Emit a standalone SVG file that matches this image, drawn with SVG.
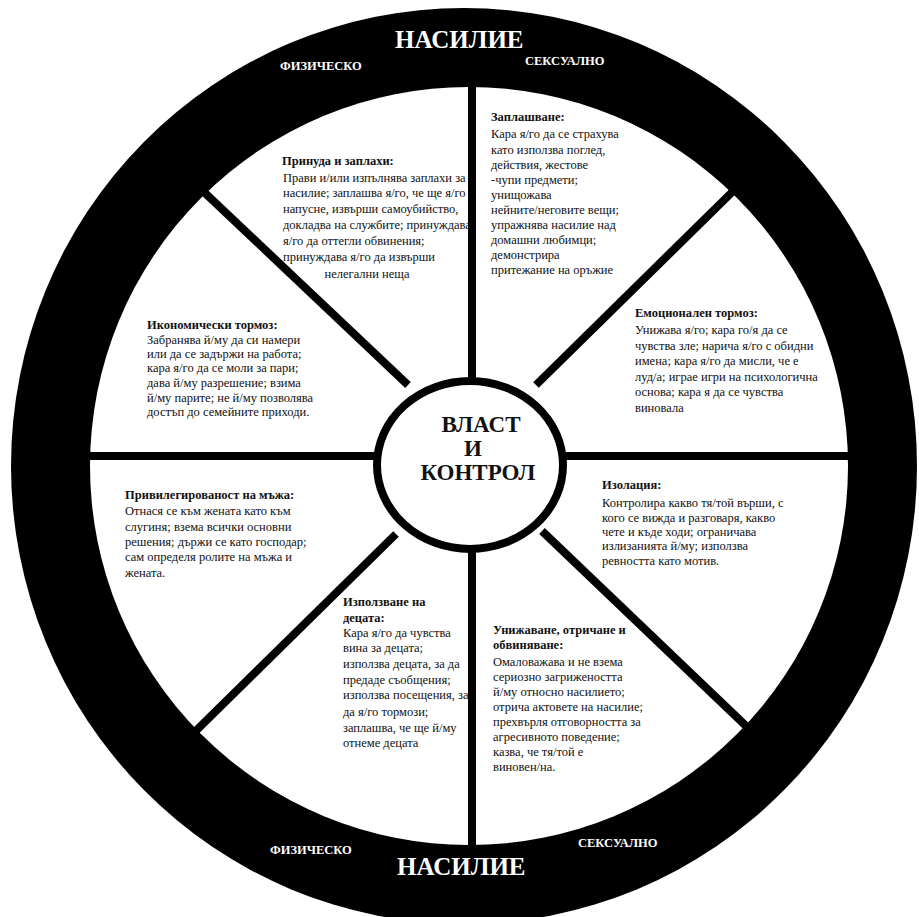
<svg xmlns="http://www.w3.org/2000/svg" width="919" height="917" viewBox="0 0 919 917">
<style>
.t{font-family:"Liberation Serif","Times New Roman",serif;font-size:12.5px;fill:#111}
.h{font-weight:bold}
.ring{font-family:"Liberation Serif","Times New Roman",serif;font-weight:bold;fill:#fff}
.big{font-size:25px}
.sm{font-size:12.5px}
.ctr{font-family:"Liberation Serif","Times New Roman",serif;font-weight:bold;font-size:23px;fill:#111;text-anchor:middle}
.sp{stroke:#000;stroke-width:8;fill:none}
</style>
<rect width="919" height="917" fill="#fff"/>
<g id="wheel">
<ellipse cx="464" cy="466" rx="453" ry="458" fill="#000"/>
<circle cx="469" cy="466" r="379" fill="#fff"/>
</g>
<g id="connectors">
<line class="sp" x1="472" y1="60" x2="472" y2="880"/>
<line class="sp" x1="60" y1="456" x2="880" y2="456"/>
<line class="sp" x1="150" y1="141" x2="408" y2="385"/>
<line class="sp" x1="780" y1="145" x2="536" y2="385"/>
<line class="sp" x1="150" y1="776" x2="396" y2="534"/>
<line class="sp" x1="790" y1="768" x2="542" y2="531"/>
</g>
<g id="center">
<ellipse cx="470" cy="465" rx="93" ry="84" fill="#fff" stroke="#000" stroke-width="8"/>
<text class="ctr" x="481" y="432">ВЛАСТ</text>
<text class="ctr" x="473" y="456">И</text>
<text class="ctr" x="478" y="480">КОНТРОЛ</text>
</g>
<g id="ring-labels">
<text class="ring big" x="395" y="48">НАСИЛИЕ</text>
<text class="ring sm" x="280" y="70">ФИЗИЧЕСКО</text>
<text class="ring sm" x="525" y="65">СЕКСУАЛНО</text>
<text class="ring sm" x="270" y="854">ФИЗИЧЕСКО</text>
<text class="ring sm" x="578" y="847">СЕКСУАЛНО</text>
<text class="ring big" x="397" y="875">НАСИЛИЕ</text>
</g>
<g id="coercion" class="t">
<text class="h" x="282" y="165">Принуда и заплахи:</text>
<text x="283" y="182">Прави и/или изпълнява заплахи за</text>
<text x="283" y="197">насилие; заплашва я/го, че ще я/го</text>
<text x="283" y="213">напусне, извърши самоубийство,</text>
<text x="283" y="229">докладва на службите; принуждава</text>
<text x="283" y="245">я/го да оттегли обвинения;</text>
<text x="283" y="261">принуждава я/го да извърши</text>
<text x="367" y="278" text-anchor="middle">нелегални неща</text>
</g>
<g id="intimidation" class="t">
<text class="h" x="491" y="121">Заплашване:</text>
<text x="491" y="138">Кара я/го да се страхува</text>
<text x="491" y="154">като използва поглед,</text>
<text x="491" y="169">действия, жестове</text>
<text x="491" y="184">-чупи предмети;</text>
<text x="491" y="199">унищожава</text>
<text x="491" y="214">нейните/неговите вещи;</text>
<text x="491" y="229">упражнява насилие над</text>
<text x="491" y="244">домашни любимци;</text>
<text x="491" y="259">демонстрира</text>
<text x="491" y="274">притежание на оръжие</text>
</g>
<g id="emotional" class="t">
<text class="h" x="635" y="317">Емоционален тормоз:</text>
<text x="635" y="334">Унижава я/го; кара го/я да се</text>
<text x="635" y="350">чувства зле; нарича я/го с обидни</text>
<text x="635" y="365">имена; кара я/го да мисли, че е</text>
<text x="635" y="381">луд/а; играе игри на психологична</text>
<text x="635" y="396">основа; кара я да се чувства</text>
<text x="635" y="412">виновала</text>
</g>
<g id="economic" class="t">
<text class="h" x="147" y="329">Икономически тормоз:</text>
<text x="147" y="344">Забранява й/му да си намери</text>
<text x="147" y="358">или да се задържи на работа;</text>
<text x="147" y="372">кара я/го да се моли за пари;</text>
<text x="147" y="387">дава й/му разрешение; взима</text>
<text x="147" y="402">й/му парите; не й/му позволява</text>
<text x="147" y="416">достъп до семейните приходи.</text>
</g>
<g id="privilege" class="t">
<text class="h" x="125" y="499">Привилегированост на мъжа:</text>
<text x="125" y="515">Отнася се към жената като към</text>
<text x="125" y="531">слугиня; взема всички основни</text>
<text x="125" y="546">решения; държи се като господар;</text>
<text x="125" y="561">сам определя ролите на мъжа и</text>
<text x="125" y="577">жената.</text>
</g>
<g id="isolation" class="t">
<text class="h" x="602" y="489">Изолация:</text>
<text x="602" y="507">Контролира какво тя/той върши, с</text>
<text x="602" y="522">кого се вижда и разговаря, какво</text>
<text x="602" y="536">чете и къде ходи; ограничава</text>
<text x="602" y="550">излизанията й/му; използва</text>
<text x="602" y="565">ревността като мотив.</text>
</g>
<g id="children" class="t">
<text class="h" x="343" y="606">Използване на</text>
<text class="h" x="343" y="622">децата:</text>
<text x="343" y="637">Кара я/го да чувства</text>
<text x="343" y="652">вина за децата;</text>
<text x="343" y="668">използва децата, за да</text>
<text x="343" y="684">предаде съобщения;</text>
<text x="343" y="699">използва посещения, за</text>
<text x="343" y="716">да я/го тормози;</text>
<text x="343" y="732">заплашва, че ще й/му</text>
<text x="343" y="747">отнеме децата</text>
</g>
<g id="minimizing" class="t">
<text class="h" x="493" y="634">Унижаване, отричане и</text>
<text class="h" x="493" y="649">обвиняване:</text>
<text x="493" y="666">Омаловажава и не взема</text>
<text x="493" y="681">сериозно загрижеността</text>
<text x="493" y="696">й/му относно насилието;</text>
<text x="493" y="711">отрича актовете на насилие;</text>
<text x="493" y="726">прехвърля отговорността за</text>
<text x="493" y="741">агресивното поведение;</text>
<text x="493" y="756">казва, че тя/той е</text>
<text x="493" y="771">виновен/на.</text>
</g>
</svg>
